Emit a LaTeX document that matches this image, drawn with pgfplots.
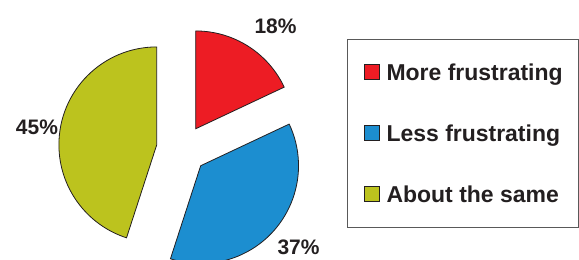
\documentclass[border=0pt]{standalone}
\usepackage{pgfplots}
\pgfplotsset{compat=1.18}
\usepackage{fontspec}
\setmainfont{Liberation Sans}
\definecolor{pred}{RGB}{237,28,36}
\definecolor{pblue}{RGB}{28,142,208}
\definecolor{polive}{RGB}{188,195,30}
\definecolor{pedge}{RGB}{35,31,32}
\begin{document}
\begin{tikzpicture}
\begin{axis}[width=579pt,height=260pt,scale only axis,
  xmin=0,xmax=579,ymin=0,ymax=260,hide axis,
  legend cell align=left,
  legend style={at={(axis cs:348,221)},anchor=north west,
    draw=gray!70!black,line width=0.8pt,
    font=\fontsize{23}{27}\selectfont\bfseries,text=pedge,
    inner xsep=16pt,inner ysep=25pt,
    nodes={inner sep=0pt,text height=16pt,text depth=0pt},
    /tikz/row sep=45pt,/tikz/column sep=7pt},
  legend image code/.code={\draw[#1,line width=0.8pt] (0pt,-7.5pt) rectangle (15pt,7.5pt);}
]
\addlegendimage{fill=pred,draw=pedge}
\addlegendentry{More frustrating}
\addlegendimage{fill=pblue,draw=pedge}
\addlegendentry{Less frustrating}
\addlegendimage{fill=polive,draw=pedge}
\addlegendentry{About the same}
% slices: 18%, 37%, 45% (angles = value * 3.6)
\filldraw[fill=pred,draw=pedge,line width=0.8pt]
  (axis cs:196,131) -- ++(90:98pt) arc[start angle=90,end angle={90-3.6*18},radius=98pt] -- cycle;
\begin{scope}
\clip (axis cs:0,0) rectangle (axis cs:579,260);
\filldraw[fill=pblue,draw=pedge,line width=0.8pt]
  (axis cs:201,94) -- ++({90-3.6*18}:98pt) arc[start angle={90-3.6*18},end angle={90-3.6*(18+37)},radius=98pt] -- cycle;
\end{scope}
\filldraw[fill=polive,draw=pedge,line width=0.8pt]
  (axis cs:157,115) -- ++(90:98pt) arc[start angle=90,end angle={90+3.6*45},radius=98pt] -- cycle;
\node[font=\fontsize{21}{25}\selectfont\bfseries,text=pedge] at (axis cs:276,234) {18\%};
\node[font=\fontsize{21}{25}\selectfont\bfseries,text=pedge] at (axis cs:37,132) {45\%};
\node[font=\fontsize{21}{25}\selectfont\bfseries,text=pedge] at (axis cs:299,12) {37\%};
\end{axis}
\end{tikzpicture}
\end{document}
